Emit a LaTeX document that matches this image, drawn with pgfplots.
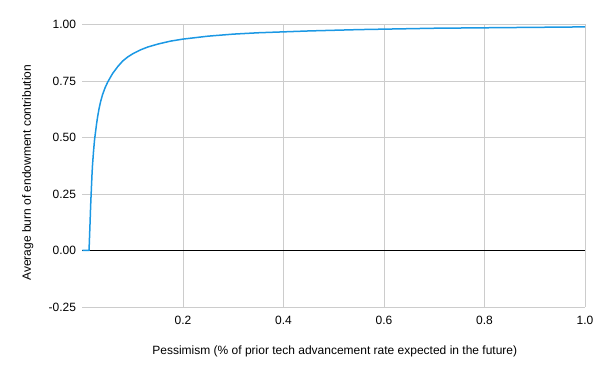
\documentclass[border=0pt]{standalone}
\usepackage{fontspec}
\setmainfont{Liberation Sans}
\usepackage{pgfplots}
\pgfplotsset{compat=1.18}
\definecolor{lineblue}{RGB}{27,152,228}
\definecolor{gridgray}{RGB}{204,204,204}
\begin{document}
\begin{tikzpicture}
\useasboundingbox (-82.5pt,-63pt) rectangle (517.5pt,307pt);
\begin{axis}[
  at={(0pt,0pt)}, anchor=south west,
  scale only axis, width=502.5pt, height=282.6pt,
  xmin=0, xmax=1, ymin=-0.25, ymax=1,
  xtick={0.2,0.4,0.6,0.8,1.0},
  ytick={-0.25,0,0.25,0.5,0.75,1},
  axis line style={draw=none},
  tick style={draw=none},
  grid=major,
  major grid style={gridgray, line width=0.8pt},
  font=\fontsize{12}{14}\selectfont,
  /pgf/number format/assume math mode=true,
  xticklabel style={/pgf/number format/fixed, /pgf/number format/fixed zerofill, /pgf/number format/precision=1, yshift=-6pt},
  yticklabel style={/pgf/number format/fixed, /pgf/number format/fixed zerofill, /pgf/number format/precision=2, xshift=-3pt},
  xlabel={Pessimism (\% of prior tech advancement rate expected in the future)},
  ylabel={Average burn of endowment contribution},
  every axis x label/.style={at={(axis description cs:0.502,-0.156)}, anchor=center},
  every axis y label/.style={at={(axis description cs:-0.109,0.475)}, rotate=90, anchor=center},
  clip=false,
]
\addplot[black, line width=0.8pt] coordinates {(0,0) (1,0)};
\addplot[lineblue, line width=1.5pt, line join=round] coordinates {
(0,0) (0.013,0) (0.014,0.06) (0.015,0.12) (0.016,0.185) (0.017,0.24)
(0.018,0.29) (0.019,0.34) (0.020,0.38) (0.022,0.44) (0.024,0.49)
(0.026,0.525) (0.028,0.56) (0.030,0.59) (0.033,0.628) (0.036,0.658)
(0.040,0.69) (0.045,0.72) (0.050,0.744) (0.055,0.764) (0.060,0.783)
(0.070,0.813) (0.080,0.838) (0.090,0.856) (0.100,0.870) (0.115,0.887)
(0.130,0.900) (0.150,0.913) (0.175,0.926) (0.200,0.935) (0.25,0.948)
(0.30,0.957) (0.35,0.963) (0.40,0.967) (0.45,0.971) (0.50,0.974)
(0.55,0.977) (0.60,0.979) (0.65,0.981) (0.70,0.983) (0.75,0.984)
(0.80,0.985) (0.85,0.986) (0.90,0.987) (0.95,0.988) (1.0,0.989)
};
\end{axis}
\end{tikzpicture}
\end{document}
